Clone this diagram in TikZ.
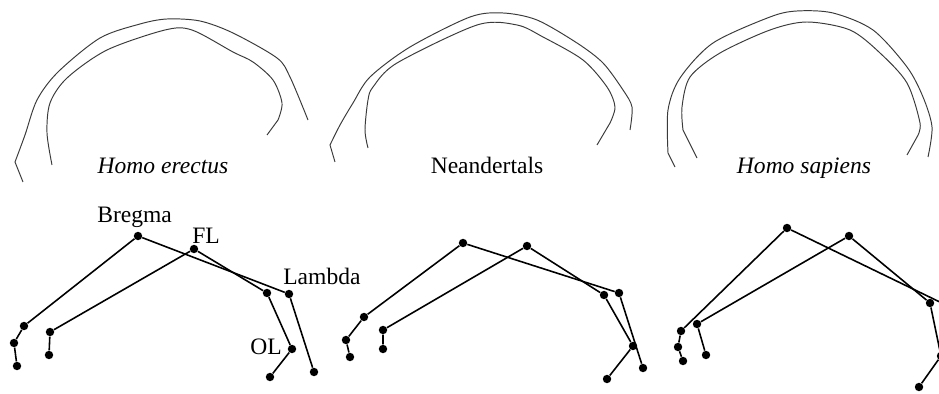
\documentclass[tikz,border=0pt]{standalone}
\usepackage{fontspec}
\setmainfont{Liberation Serif}
\usepackage{xcolor}
\definecolor{outline-grey}{HTML}{3A3A3A}

\begin{document}
\begin{tikzpicture}[x=0.02cm, y=-0.02cm,
        every node/.style={font=\fontsize{13.4}{16}\selectfont},
        dot/.style={circle, fill=black, inner sep=0pt, minimum size=4.8pt},
        link/.style={line width=0.9pt},
        skull/.style={outline-grey, line width=0.55pt}]
      \useasboundingbox (0,0) rectangle (939,394);
      \clip (0,0) rectangle (939,394);

      % vault outlines
      \draw[skull] (23,182) -- (15,162) -- plot[smooth, tension=0.5] coordinates
            {(15,162) (25,135) (37,100) (58,72) (100,38) (140,24) (167,19)
             (200,21) (233,33) (277,58) (290,77) (308,120)};
      \draw[skull] plot[smooth, tension=0.5] coordinates
            {(52,165) (47,133) (50,103) (67,78) (107,50) (165,30) (192,30)
             (233,52) (253,62) (273,80) (282,103) (278,120)} -- (267,135);
      \draw[skull] (335,162) -- (330,145) -- plot[smooth, tension=0.5] coordinates
            {(330,145) (340,125) (353,103) (370,77) (410,47) (470,17) (503,13)
             (537,20) (577,43) (603,63) (623,90) (632,107) (630,130)};
      \draw[skull] plot[smooth, tension=0.5] coordinates
            {(368,148) (365,130) (368,100) (373,87) (397,63) (477,25) (517,25)
             (543,37) (583,60) (607,87) (615,107) (610,123)} -- (597,145);
      \draw[skull] (675,167) -- (668,153) -- plot[smooth, tension=0.5] coordinates
            {(668,153) (668,110) (680,78) (713,43) (770,17) (797,11) (833,13)
             (873,30) (907,67) (923,97) (932,127) (928,157)};
      \draw[skull] (697,158) -- (683,130) -- plot[smooth, tension=0.5] coordinates
            {(683,130) (682,107) (690,77) (720,53) (770,30) (807,22) (850,30)
             (880,53) (907,83) (920,123) (917,137)} -- (907,155);

      \node[anchor=base] (ERECTUS) at (163,174) {\textit{Homo erectus}};
      \node[anchor=base] (NEAND) at (487,174) {Neandertals};
      \node[anchor=base] (SAPIENS) at (804,174) {\textit{Homo sapiens}};

      % Homo erectus landmarks
      \node[dot] (BR1) at (138,236) {};
      \node[dot] (FL1) at (194,249) {};
      \node[dot] (LA1) at (289,294) {};
      \node[dot] (IN1) at (267,293) {};
      \node[dot] (OL1) at (292,349) {};
      \node[dot] (OB1) at (270,377) {};
      \node[dot] (LB1) at (314,372) {};
      \node[dot] (FA1) at (24,326) {};
      \node[dot] (FB1) at (14,343) {};
      \node[dot] (FC1) at (17,366) {};
      \node[dot] (GA1) at (50,332) {};
      \node[dot] (GB1) at (49,355) {};
      \draw[link] (FC1) -- (FB1) -- (FA1) -- (BR1) -- (LA1) -- (LB1);
      \draw[link] (GB1) -- (GA1) -- (FL1) -- (IN1) -- (OL1) -- (OB1);
      \node[anchor=base west, inner sep=0pt] at (97,223) {Bregma};
      \node[anchor=base west, inner sep=0pt] at (192,244) {FL};
      \node[anchor=base west, inner sep=0pt] at (283,285) {Lambda};
      \node[anchor=base west, inner sep=0pt] at (250,355) {OL};

      % Neandertal landmarks
      \node[dot] (BR2) at (463,243) {};
      \node[dot] (FL2) at (527,246) {};
      \node[dot] (LA2) at (619,293) {};
      \node[dot] (IN2) at (604,295) {};
      \node[dot] (OL2) at (633,346) {};
      \node[dot] (OB2) at (607,379) {};
      \node[dot] (LB2) at (643,368) {};
      \node[dot] (FA2) at (364,317) {};
      \node[dot] (FB2) at (346,340) {};
      \node[dot] (FC2) at (350,357) {};
      \node[dot] (GA2) at (383,330) {};
      \node[dot] (GB2) at (383,349) {};
      \draw[link] (FC2) -- (FB2) -- (FA2) -- (BR2) -- (LA2) -- (LB2);
      \draw[link] (GB2) -- (GA2) -- (FL2) -- (IN2) -- (OL2) -- (OB2);

      % Homo sapiens landmarks
      \node[dot] (BR3) at (787,228) {};
      \node[dot] (FL3) at (849,236) {};
      \node[dot] (LA3) at (946,305) {};
      \node[dot] (IN3) at (930,303) {};
      \node[dot] (OL3) at (941,356) {};
      \node[dot] (OB3) at (919,387) {};
      \node[dot] (LB3) at (962,385) {};
      \node[dot] (FA3) at (681,331) {};
      \node[dot] (FB3) at (678,347) {};
      \node[dot] (FC3) at (683,361) {};
      \node[dot] (GA3) at (697,324) {};
      \node[dot] (GB3) at (706,355) {};
      \draw[link] (FC3) -- (FB3) -- (FA3) -- (BR3) -- (LA3) -- (LB3);
      \draw[link] (GB3) -- (GA3) -- (FL3) -- (IN3) -- (OL3) -- (OB3);
    \end{tikzpicture}
\end{document}
